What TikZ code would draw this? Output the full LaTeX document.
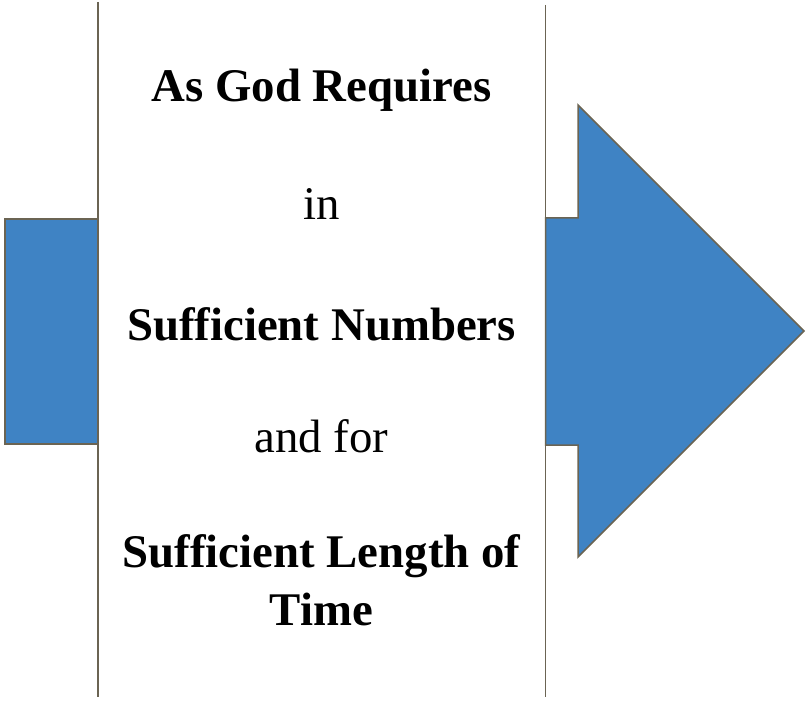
\documentclass[tikz,border=0pt]{standalone}
\usepackage{fontspec}
\setmainfont{Liberation Serif}
\definecolor{edgecol}{HTML}{6B6453}
\definecolor{bluefill}{HTML}{3F83C4}
\tikzset{
  blueshape/.style={fill=bluefill, draw=edgecol, line width=1.5pt, line join=miter},
  divider/.style={draw=edgecol, line width=1.6pt},
  boldtxt/.style={anchor=base, inner sep=0pt, font=\fontsize{46.8}{58}\selectfont\bfseries, align=center},
  plaintxt/.style={anchor=base, inner sep=0pt, font=\fontsize{46.8}{58}\selectfont}
}
\begin{document}
\begin{tikzpicture}[x=1pt,y=-1pt]
\useasboundingbox (0,0) rectangle (808,703);
% left block
\path[blueshape] (5,219) rectangle (98,444);
% right arrow
\path[blueshape] (545.5,218) -- (578,218) -- (578,105) -- (804,331) -- (578,557) -- (578,445) -- (545.5,445) -- cycle;
% dividers
\coordinate (l1) at (98,2);
\coordinate (l2) at (98,697);
\coordinate (r1) at (545.5,5);
\coordinate (r2) at (545.5,697);
\draw[divider] (l1) -- (l2);
\draw[divider] (r1) -- (r2);
% texts
\node[boldtxt] (t1) at (321.5,102) {As God Requires};
\node[plaintxt] (t2) at (321.5,220) {in};
\node[boldtxt] (t3) at (321.5,340) {Sufficient Numbers};
\node[plaintxt] (t4) at (321.5,452) {and for};
\node[boldtxt] (t5) at (321.5,567) {Sufficient Length of};
\node[boldtxt] (t6) at (321.5,625) {Time};
\end{tikzpicture}
\end{document}
